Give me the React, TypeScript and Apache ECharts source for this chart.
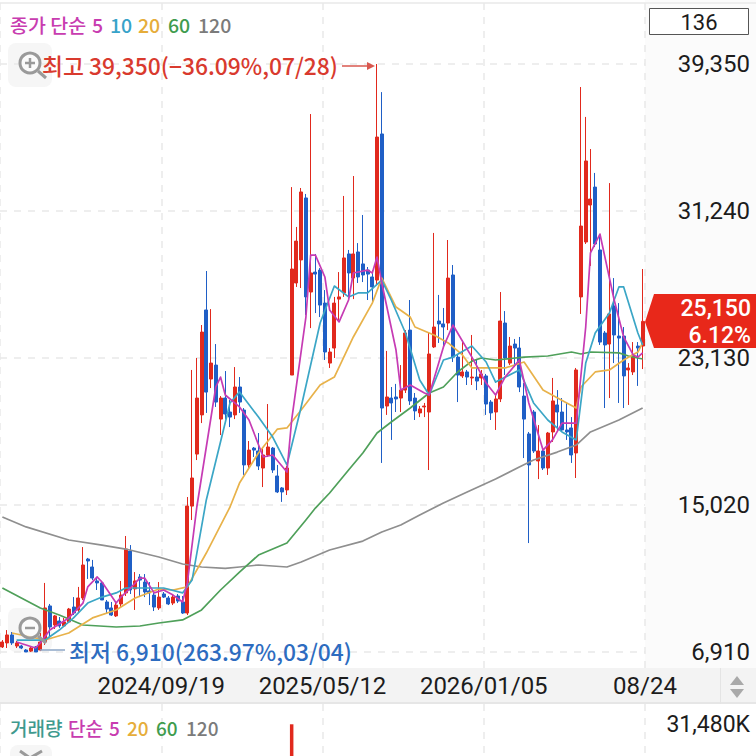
import React, { useEffect, useRef } from "react";
import * as echarts from "echarts";

// Every candle, left to right (136 sessions shown in the counter box)
const openPrices = [7190,7410,7850,7240,7240,7020,6960,7190,7020,7460,9450,8400,8620,8350,8570,9390,9230,9890,12040,11600,10830,10720,9670,9340,8900,9560,10170,12480,10390,11050,10770,10280,10050,9340,10110,9890,9610,10000,9670,9060,14960,17830,19990,25780,21970,22740,19760,20920,20150,19990,21530,20260,17230,18160,18000,17060,17780,18160,16620,15960,15850,22190,27270,28540,31960,26770,27870,27980,26160,22850,23680,26380,26720,28870,27540,28980,28320,27980,27600,27430,35490,20480,20920,20980,20920,21360,24670,20920,20100,20430,20150,23740,25170,25010,25060,27710,23180,22140,22360,22030,22080,22030,22140,20700,20150,20870,25060,22850,23900,23680,21030,18940,20150,17450,18000,17060,19050,20540,20150,19160,19270,17890,26500,29530,31570,32560,29090,24510,23900,26000,24340,24340,22470,22360,23790,23790];
const closePrices = [7460,7850,7410,7410,7130,6910,7130,6910,7460,9340,8290,8900,8350,8570,9280,9060,9890,11710,11930,10990,10720,9780,9280,8950,9500,10050,12590,10330,10830,10880,10220,10170,9390,9940,9940,9560,9940,9720,9060,14960,16510,20920,24560,21250,22850,20700,20920,20040,19870,21530,20700,17230,18050,18050,17170,17780,18220,16950,15740,15740,17060,28040,29580,32290,26500,27820,27760,26050,23460,23460,26160,26500,28650,27820,28870,27600,27710,27760,27050,35320,20370,20980,20650,20870,21360,24510,20760,20210,20320,20480,23350,24840,25010,24840,27540,23180,22190,22360,22080,22080,21860,22250,20590,20100,20870,25170,23130,23790,23680,21530,19760,17230,18000,18000,17060,18990,20760,20150,19160,19050,17780,22470,30410,34000,31900,29420,24010,23850,25560,24400,24230,22140,22580,23300,23680,25150];
const lowPrices = [7130,7130,7300,7130,7070,6910,6910,6910,6960,7300,7740,8180,8240,8290,8510,8950,9120,9780,10940,10880,10330,9780,9060,8900,8840,9390,10000,10110,9230,9940,9940,9500,9170,9230,9890,9500,9500,9610,9010,8950,14190,17500,19540,20100,21470,20430,18880,19760,19320,19760,20100,16680,17060,17670,16950,16010,17670,16790,15680,15190,15570,22190,27050,26990,25500,24780,25610,25390,23020,22580,23130,25230,26500,26500,26380,27270,27320,26330,26220,27160,17340,19990,18610,20150,20150,21200,20540,19710,19870,19870,16950,23680,23960,23680,24670,22910,20700,22030,21640,21640,21360,21640,19990,19710,19160,20700,22190,22740,22630,21250,17610,12920,17890,16450,16950,16680,18500,19160,19050,18610,17340,16510,25560,29420,28210,29250,23850,20370,20920,22850,20650,20370,20540,22190,21590,22520];
const highPrices = [7570,8120,8010,7520,7300,7070,7190,7240,7960,10720,9560,8950,8840,8790,9340,9940,10500,12700,12100,11990,11050,10830,9780,9670,9610,10830,13310,12810,11320,11210,11210,10770,10170,10770,10220,10000,10110,10110,10000,15460,22470,23130,24950,27930,25830,23900,21030,22410,20810,22630,22080,20370,18550,18220,18990,18220,20590,18220,17230,16010,17170,32560,30360,32510,32180,36590,28870,28090,26880,23680,26500,27870,32070,29090,33170,29470,31020,28150,27980,39350,37800,23520,21530,21700,22740,24670,26330,21200,20480,20650,24510,30030,26610,25890,29640,28260,23300,24120,22470,24400,23020,22470,22250,20810,21090,26770,25720,24290,24180,24290,21750,19050,20260,19430,18110,19050,22030,21360,20920,20700,19870,22580,38080,36430,34660,33340,29920,24620,32780,27540,26160,24840,22850,24010,24010,28040];

// Moving averages: [session index, price]
const ma5 = [[3,7460],[7,7130],[8,7410],[10,8120],[14,8790],[17,9610],[18,10500],[20,11050],[21,10770],[24,9610],[25,9940],[27,10440],[29,10990],[30,10990],[32,10170],[34,10330],[36,10050],[38,9670],[39,10720],[41,14910],[45,21530],[46,22080],[47,21090],[50,20430],[52,19710],[55,17670],[57,17780],[60,16840],[61,19710],[64,25390],[65,28810],[66,28810],[68,27600],[69,25780],[71,25120],[73,26330],[74,27820],[77,27980],[78,27820],[79,28700],[80,27270],[83,23570],[84,21360],[86,21640],[89,21200],[90,21090],[93,23740],[95,24950],[99,23180],[102,21750],[104,21090],[106,22080],[109,23020],[111,20650],[114,18050],[116,18610],[118,19540],[121,19540],[123,24840],[124,28930],[126,29970],[129,26330],[131,24290],[133,23300],[134,23180],[135,23410]];
const ma10 = [[3,7570],[9,7570],[12,8120],[15,8790],[18,9610],[21,9940],[24,10170],[26,10440],[31,10440],[34,10440],[38,10170],[40,10880],[43,15300],[48,20650],[50,21260],[54,19870],[57,18770],[60,17230],[63,20430],[67,25060],[70,27100],[73,26500],[75,26720],[77,26720],[80,27430],[82,26330],[85,24510],[88,21920],[90,21090],[93,23020],[95,23180],[99,23790],[102,22910],[104,21800],[109,22470],[112,20650],[115,19710],[118,19050],[121,18610],[123,22850],[125,24510],[128,25610],[130,27050],[131,27050],[134,24510],[135,23850]];
const ma20 = [[2,7960],[9,7570],[14,7960],[19,8790],[24,9230],[28,9890],[33,10390],[36,10330],[39,10500],[43,12370],[48,14910],[50,16230],[54,17890],[58,19210],[60,19270],[63,20260],[67,21640],[70,22080],[74,24290],[78,26160],[80,27540],[83,25940],[86,25390],[87,24840],[91,24400],[94,23960],[97,23300],[99,22580],[101,22580],[106,22580],[110,22910],[114,21360],[119,20650],[121,20370],[122,21530],[125,22360],[128,22470],[131,23020],[134,23460],[135,23960]];
const ma60 = [[0,10440],[4,9890],[8,9340],[12,8950],[17,8400],[24,8290],[29,8345],[33,8510],[38,8680],[42,9230],[46,10330],[50,11320],[54,12260],[60,12920],[64,14190],[66,14850],[69,15680],[73,16950],[76,17890],[79,18990],[82,19600],[86,20370],[90,21200],[93,21530],[96,22360],[99,22960],[101,23130],[104,23020],[110,23180],[115,23240],[120,23460],[122,23350],[124,23460],[130,23410],[132,23240],[135,23075]];
const ma120 = [[0,14360],[5,13810],[14,13090],[21,12810],[26,12590],[33,12150],[38,11765],[42,11600],[47,11520],[50,11600],[54,11710],[60,11600],[63,11875],[69,12540],[76,13030],[80,13530],[84,13920],[88,14470],[93,15130],[98,15740],[104,16450],[109,17120],[112,17500],[117,17940],[121,18330],[124,19050],[130,19710],[135,20370]];

const volumes = [[61, 32000]];
const priceTicks = [6910, 15020, 23130, 31240, 39350];
const dateLabels = ["", "2024/09/19", "2025/05/12", "2026/01/05", "08/24"];
const volumeTicks = [31480];

const sessions = openPrices.map((_, i) => String(i));
const candles = openPrices.map((o, i) => [o, closePrices[i], lowPrices[i], highPrices[i]]);

const UP = "#e1291d";
const DOWN = "#1f5fc6";
const FONT = '"Noto Sans CJK KR", "Noto Sans", sans-serif';
const NUM_FONT = 'Roboto, "Noto Sans", sans-serif';
const GRIDLINE = "#e9e9e9";

const legendItems = [
  { text: "종가 단순", x: 10, color: "#c83cb0" },
  { text: "5", x: 92, color: "#c83cb0" },
  { text: "10", x: 110, color: "#37a3c9" },
  { text: "20", x: 138, color: "#e6ad3a" },
  { text: "60", x: 168, color: "#3f9c4e" },
  { text: "120", x: 198, color: "#7b7b7b" },
];
const volumeLegendItems = [
  { text: "거래량", x: 10, color: "#3f9a8e" },
  { text: "단순", x: 68, color: "#c83cb0" },
  { text: "5", x: 109, color: "#c83cb0" },
  { text: "20", x: 127, color: "#e6ad3a" },
  { text: "60", x: 156, color: "#3f9c4e" },
  { text: "120", x: 186, color: "#7b7b7b" },
];

function lineSeries(name: string, data: number[][], color: string, z: number) {
  return {
    name,
    type: "line",
    data,
    xAxisIndex: 0,
    yAxisIndex: 0,
    showSymbol: false,
    symbol: "none",
    smooth: false,
    z,
    silent: true,
    lineStyle: { color, width: 1.7, join: "round" },
  };
}

function texts(items: { text: string; x: number; color: string }[], y: number, size: number) {
  return items.map((it) => ({
    type: "text",
    z: 100,
    x: it.x,
    y,
    style: { text: it.text, fill: it.color, font: `500 ${size}px ${FONT}`, verticalAlign: "middle" },
  }));
}

function magnifier(cx: number, cy: number, plus: boolean) {
  const stroke = "#9a9a9a";
  const marks: any[] = [
    { type: "rect", z: 1, shape: { x: cx - 22, y: cy - 20, width: 44, height: 44, r: 8 }, style: { fill: "#f6f6f6" } },
    { type: "circle", z: 90, shape: { cx, cy, r: 10 }, style: { fill: "rgba(255,255,255,0.6)", stroke, lineWidth: 3 } },
    { type: "line", z: 90, shape: { x1: cx + 8, y1: cy + 8, x2: cx + 16, y2: cy + 15 }, style: { stroke, lineWidth: 3 } },
    { type: "line", z: 90, shape: { x1: cx - 5, y1: cy, x2: cx + 5, y2: cy }, style: { stroke, lineWidth: 2.5 } },
  ];
  if (plus) {
    marks.push({ type: "line", z: 90, shape: { x1: cx, y1: cy - 5, x2: cx, y2: cy + 5 }, style: { stroke, lineWidth: 2.5 } });
  }
  return marks;
}

export default function App() {
  const ref = useRef<HTMLDivElement>(null);
  useEffect(() => {
    const chart = echarts.init(ref.current!, null, { renderer: "svg" });
    chart.setOption({
      animation: false,
      backgroundColor: "#ffffff",
      grid: [
        { left: 0, width: 645, top: 3, height: 665 },
        { left: 0, width: 645, top: 704, height: 120 },
      ],
      xAxis: [
        { type: "category", gridIndex: 0, data: sessions, boundaryGap: true, axisLine: { show: false }, axisTick: { show: false }, axisLabel: { show: false }, splitLine: { show: false } },
        {
          type: "value", gridIndex: 0, min: 0, max: 4, interval: 1, position: "bottom",
          axisLine: { show: false }, axisTick: { show: false },
          splitLine: { show: true, lineStyle: { color: GRIDLINE, type: [7, 7], width: 1.5 } },
          axisLabel: { show: true, showMinLabel: false, showMaxLabel: true, hideOverlap: false, margin: 6, color: "#1c1c1c", fontFamily: NUM_FONT, fontSize: 24, formatter: (v: number) => dateLabels[v] ?? "" },
        },
        { type: "category", gridIndex: 1, data: sessions, axisLine: { show: false }, axisTick: { show: false }, axisLabel: { show: false }, splitLine: { show: false } },
        {
          type: "value", gridIndex: 1, min: 0, max: 4, interval: 1, axisLine: { show: false }, axisTick: { show: false }, axisLabel: { show: false },
          splitLine: { show: true, lineStyle: { color: GRIDLINE, type: [7, 7], width: 1.5 } },
        },
      ],
      yAxis: [
        {
          type: "value", gridIndex: 0, position: "right", min: 6027, max: 42716, scale: true,
          axisLine: { show: false }, axisTick: { show: false }, splitLine: { show: false },
          axisLabel: {
            customValues: priceTicks, align: "right", margin: 105, color: "#1c1c1c", fontFamily: NUM_FONT, fontSize: 24,
            formatter: (v: number) => v.toLocaleString("en-US"),
          },
        },
        {
          type: "value", gridIndex: 1, position: "right", min: 0, max: 52467,
          axisLine: { show: false }, axisTick: { show: false }, splitLine: { show: false },
          axisLabel: {
            customValues: volumeTicks, align: "right", margin: 105, color: "#1c1c1c", fontFamily: NUM_FONT, fontSize: 23,
            formatter: (v: number) => `${v.toLocaleString("en-US")}K`,
          },
        },
      ],
      series: [
        {
          name: "가격",
          type: "candlestick",
          xAxisIndex: 0,
          yAxisIndex: 0,
          data: candles,
          barWidth: 3.5,
          z: 3,
          silent: true,
          itemStyle: { color: UP, color0: DOWN, borderColor: UP, borderColor0: DOWN, borderWidth: 1 },
          markLine: {
            silent: true,
            z: 1,
            symbol: "none",
            label: { show: false },
            lineStyle: { color: GRIDLINE, type: [7, 7], width: 1.5 },
            data: priceTicks.map((v) => ({ yAxis: v })),
          },
        },
        lineSeries("120", ma120, "#8f8f8f", 4),
        lineSeries("60", ma60, "#4fa05a", 4),
        lineSeries("20", ma20, "#e8b24a", 5),
        lineSeries("10", ma10, "#3ba6c6", 6),
        lineSeries("5", ma5, "#c63bb4", 7),
        {
          name: "거래량",
          type: "bar",
          xAxisIndex: 2,
          yAxisIndex: 1,
          data: volumes,
          barWidth: 3.5,
          silent: true,
          itemStyle: { color: UP },
        },
      ],
      graphic: {
        elements: [
          { type: "rect", z: -10, shape: { x: 645, y: 0, width: 111, height: 668 }, style: { fill: "#fbfbfb" } },
          { type: "rect", z: -10, shape: { x: 0, y: 668, width: 756, height: 36 }, style: { fill: "#f3f3f3" } },
          { type: "rect", z: -9, shape: { x: 0, y: 702, width: 756, height: 2 }, style: { fill: "#e6e6e6" } },
          { type: "rect", z: -9, shape: { x: 0, y: 2, width: 756, height: 2 }, style: { fill: "#eeeeee" } },
          { type: "rect", z: -9, shape: { x: 720, y: 668, width: 1, height: 36 }, style: { fill: "#e4e4e4" } },
          { type: "polygon", z: 100, shape: { points: [[737, 676], [730, 685], [744, 685]] }, style: { fill: "#a9a9a9" } },
          { type: "polygon", z: 100, shape: { points: [[737, 698], [730, 689], [744, 689]] }, style: { fill: "#a9a9a9" } },
          { type: "rect", z: 100, shape: { x: 649.5, y: 8.5, width: 99, height: 26 }, style: { fill: "#ffffff", stroke: "#555555", lineWidth: 1 } },
          { type: "text", z: 101, x: 699, y: 22, style: { text: "136", fill: "#1c1c1c", font: `400 22px ${NUM_FONT}`, align: "center", verticalAlign: "middle" } },
          ...texts(legendItems, 24, 19.5),
          ...texts(volumeLegendItems, 727, 19),
          ...magnifier(30, 63, true),
          ...magnifier(30, 628, false),
          { type: "text", z: 100, x: 42, y: 65, style: { text: "최고 39,350(−36.09%,07/28)", fill: "#d93a2e", font: `500 22.8px ${FONT}`, verticalAlign: "middle" } },
          { type: "line", z: 100, shape: { x1: 342, y1: 66, x2: 372, y2: 66 }, style: { stroke: "#d9584f", lineWidth: 1.5 } },
          { type: "polygon", z: 100, shape: { points: [[375, 66], [367, 62], [367, 70]] }, style: { fill: "#d9584f" } },
          { type: "text", z: 100, x: 69, y: 651, style: { text: "최저 6,910(263.97%,03/04)", fill: "#2d6cc0", font: `500 22.8px ${FONT}`, verticalAlign: "middle" } },
          { type: "line", z: 100, shape: { x1: 40, y1: 650, x2: 65, y2: 650 }, style: { stroke: "#8da6c6", lineWidth: 1.5 } },
          { type: "polygon", z: 100, shape: { points: [[645, 322], [654, 294], [756, 294], [756, 348], [654, 348]] }, style: { fill: "#e8281a" } },
          { type: "text", z: 101, x: 751, y: 308, style: { text: "25,150", fill: "#ffffff", font: `500 23px ${NUM_FONT}`, align: "right", verticalAlign: "middle" } },
          { type: "text", z: 101, x: 751, y: 335, style: { text: "6.12%", fill: "#ffffff", font: `500 23px ${NUM_FONT}`, align: "right", verticalAlign: "middle" } },
          { type: "rect", z: 1, shape: { x: 10, y: 745, width: 42, height: 20, r: 8 }, style: { fill: "#f6f6f6" } },
          { type: "polyline", z: 90, shape: { points: [[20, 751], [30, 758], [42, 751]] }, style: { stroke: "#9a9a9a", lineWidth: 3, fill: "none" } },
        ],
      },
    });
    return () => chart.dispose();
  }, []);
  return <div ref={ref} style={{ position: "absolute", left: 0, top: 0, width: 756, height: 756, overflow: "hidden" }} />;
}
